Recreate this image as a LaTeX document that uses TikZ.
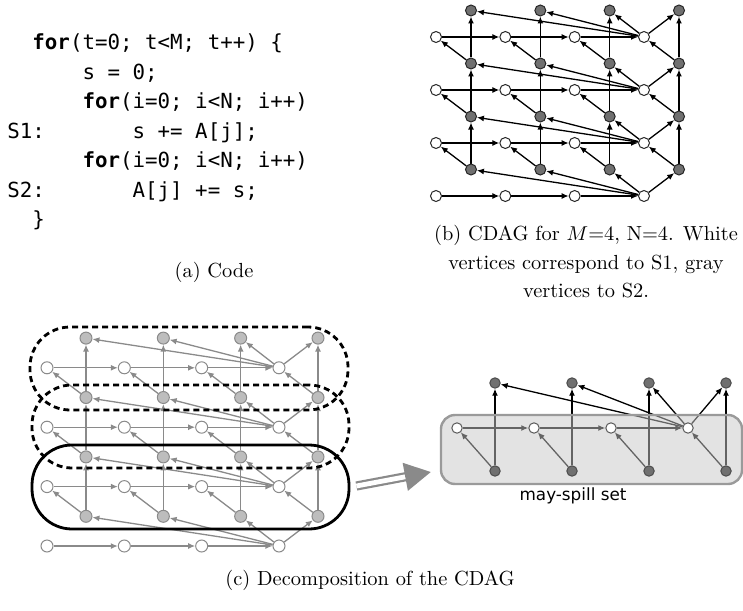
\documentclass[tikz,border=0pt]{standalone}
\usepackage{fontspec}
\setmonofont{DejaVu Sans Mono}
\newfontfamily\spillfont{DejaVu Sans}
\usetikzlibrary{arrows.meta,calc,positioning}
\pgfdeclarelayer{edgelayer}
\pgfdeclarelayer{boxlayer}
\pgfsetlayers{edgelayer,boxlayer,main}
\definecolor{bgray}{HTML}{707070}
\definecolor{cline}{HTML}{8A8A8A}
\definecolor{cfill}{HTML}{BDBDBD}
\definecolor{boxfill}{HTML}{C8C8C8}
\definecolor{boxline}{HTML}{9A9A9A}
\tikzset{
  codeline/.style={anchor=base west, inner sep=0pt, font=\ttfamily\fontsize{10.4}{12}\selectfont},
  caption/.style={align=center, inner sep=0pt, font=\fontsize{10.2}{14.25}\selectfont},
  bwnode/.style={circle, draw=black!85, fill=white, line width=0.5pt, inner sep=0pt, minimum size=5.5pt},
  bgnode/.style={bwnode, fill=bgray},
  cwnode/.style={bwnode, draw=cline, minimum size=6pt},
  cgnode/.style={cwnode, fill=cfill},
  rwnode/.style={bwnode, draw=black!65, minimum size=5.2pt},
  rgnode/.style={rwnode, fill=bgray, draw=black!70},
  bedge/.style={-{Latex[length=3.5pt,width=3pt]}, line width=0.65pt},
  cedge/.style={bedge, draw=cline},
  dashbox/.style={draw, dash pattern=on 3pt off 2pt, line width=1.4pt, rounded corners=20pt,
    minimum width=158.5pt, minimum height=41.5pt, inner sep=0pt},
  solidbox/.style={dashbox, solid, minimum height=42pt},
  msbox/.style={draw=boxline, fill=boxfill, fill opacity=0.5, line width=1.2pt, rounded corners=7pt,
    minimum width=150.5pt, minimum height=34.5pt, inner sep=0pt},
  bigarrow/.style={draw=cline, line width=1.1pt, double=white, double distance=2.4pt,
    -{Triangle[length=13pt,width=14pt]}}
}
\begin{document}
\begin{tikzpicture}[x=0.5pt,y=-0.5pt]
  \useasboundingbox (0,0) rectangle (743,610);
  %(a) the code
  \node[codeline] (code1) at (7,50) {~~\textbf{for}(t=0;~t<M;~t++)~\{};
  \node[codeline] (code2) at (7,79.5) {~~~~~~s~=~0;};
  \node[codeline] (code3) at (7,109) {~~~~~~\textbf{for}(i=0;~i<N;~i++)};
  \node[codeline] (code4) at (7,138) {S1:~~~~~~~s~+=~A[j];};
  \node[codeline] (code5) at (7,167.5) {~~~~~~\textbf{for}(i=0;~i<N;~i++)};
  \node[codeline] (code6) at (7,197) {S2:~~~~~~~A[j]~+=~s;};
  \node[codeline] (code7) at (7,226) {~~\}};
  \node[caption] (capa) at (214,272) {(a) Code};
  %(b) the CDAG
  %white vertices are S1, gray vertices are S2
  \foreach \t in {0,...,3} {
    \foreach \i in {0,...,3} {
      \node[bwnode] (bw\t\i) at ({436+69.33*\i},{196-53*\t}) {};
      \node[bgnode] (bg\t\i) at ({471+69.33*\i},{169.5-53*\t}) {};
    }
  }
  \begin{pgfonlayer}{edgelayer}
    \foreach \t in {0,...,3} {
      \foreach \i/\j in {0/1,1/2,2/3}
        \draw[bedge] (bw\t\i) -- (bw\t\j);
      \foreach \i in {0,...,3}
        \draw[bedge] (bw\t3) -- (bg\t\i);
    }
    \foreach \t/\u in {0/1,1/2,2/3} {
      \foreach \i in {0,...,3} {
        \draw[bedge] (bg\t\i) -- (bw\u\i);
        \draw[bedge] (bg\t\i) -- (bg\u\i);
      }
    }
  \end{pgfonlayer}
  \node[caption] (capb) at (586,262) {(b) CDAG for $M$=4, N=4. White\\vertices correspond to S1, gray\\vertices to S2.};
  %(c) the same CDAG, cut into tiles
  \foreach \t in {0,...,3} {
    \foreach \i in {0,...,3} {
      \node[cwnode] (cw\t\i) at ({47+77.33*\i},{546-59.4*\t}) {};
      \node[cgnode] (cg\t\i) at ({86+77.33*\i},{516.3-59.4*\t}) {};
    }
  }
  \begin{pgfonlayer}{edgelayer}
    \foreach \t in {0,...,3} {
      \foreach \i/\j in {0/1,1/2,2/3}
        \draw[cedge] (cw\t\i) -- (cw\t\j);
      \foreach \i in {0,...,3}
        \draw[cedge] (cw\t3) -- (cg\t\i);
    }
    \foreach \t/\u in {0/1,1/2,2/3} {
      \foreach \i in {0,...,3} {
        \draw[cedge] (cg\t\i) -- (cw\u\i);
        \draw[cedge] (cg\t\i) -- (cg\u\i);
      }
    }
  \end{pgfonlayer}
  \node[dashbox, minimum width=159pt] (tile3) at (189,368.5) {};
  \node[dashbox] (tile2) at (190.5,426.5) {};
  \node[solidbox] (tile1) at (190.5,487) {};
  %one tile on its own
  \foreach \i in {0,...,3} {
    \node[rwnode] (rw\i) at ({457+77*\i},428) {};
    \node[rgnode] (rgb\i) at ({495+77*\i},471) {};
    \node[rgnode] (rgt\i) at ({495+77*\i},383) {};
  }
  \begin{pgfonlayer}{edgelayer}
    \foreach \i/\j in {0/1,1/2,2/3}
      \draw[bedge] (rw\i) -- (rw\j);
    \foreach \i in {0,...,3} {
      \draw[bedge] (rgb\i) -- (rw\i);
      \draw[bedge] (rgb\i) -- (rgt\i);
      \draw[bedge] (rw3) -- (rgt\i);
    }
  \end{pgfonlayer}
  \begin{pgfonlayer}{boxlayer}
    \node[msbox] (spill) at (591.5,449.5) {};
  \end{pgfonlayer}
  \node[font=\spillfont\fontsize{8.4}{10}\selectfont, inner sep=0pt] (spilllabel) at (573,496) {may-spill set};
  \draw[bigarrow] ($(tile1.east)+(6,-1)$) -- ($(spill.west)+(-9,22.5)$);
  \node[caption] (capc) at (370,580) {(c) Decomposition of the CDAG};
\end{tikzpicture}
\end{document}
